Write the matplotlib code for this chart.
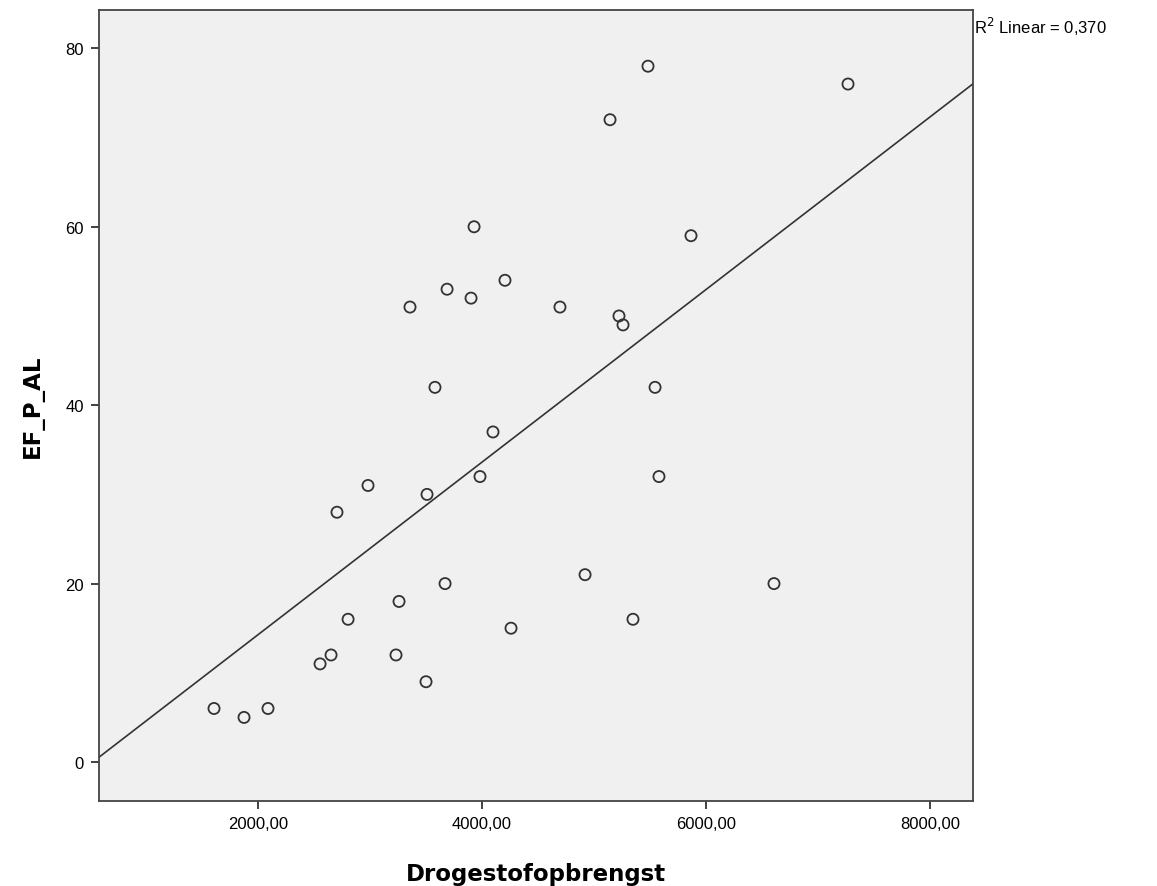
import matplotlib
matplotlib.use("Agg")
import matplotlib.pyplot as plt
import numpy as np

# dry matter yield vs. EF_P_AL
drogestof = [1607, 1875, 2089, 2554, 2652, 2705, 2804, 2982, 3232, 3259,
             3357, 3500, 3509, 3580, 3670, 3688, 3902, 3929, 3982, 4098,
             4205, 4259, 4696, 4920, 5143, 5223, 5259, 5348, 5482, 5545,
             5580, 5866, 6607, 7268]
ef_p_al = [6, 5, 6, 11, 12, 28, 16, 31, 12, 18,
           51, 9, 30, 42, 20, 53, 52, 60, 32, 37,
           54, 15, 51, 21, 72, 50, 49, 16, 78, 42,
           32, 59, 20, 76]
x_ticks = [2000, 4000, 6000, 8000]
y_ticks = [0, 20, 40, 60, 80]
r2_label = "0,370"

x = np.array(drogestof, dtype=float)
y = np.array(ef_p_al, dtype=float)
slope, intercept = np.polyfit(x, y, 1)

fig = plt.figure(figsize=(11.57, 8.87), dpi=100)
ax = fig.add_axes([99 / 1157, 1 - 802 / 887, 874 / 1157, 791 / 887])
ax.set_facecolor("#f0f0f0")

xmin, xmax = 580, 8384
ax.set_xlim(xmin, xmax)
ax.set_ylim(-4.37, 84.3)

xl = np.array([xmin, xmax])
ax.plot(xl, intercept + slope * xl, color="#333333", lw=1.2, zorder=2)
ax.scatter(x, y, s=64, facecolors="none", edgecolors="#333333", linewidths=1.3, zorder=3)

ax.set_xticks(x_ticks)
ax.set_xticklabels([f"{v:.2f}".replace(".", ",") for v in x_ticks],
                   fontfamily="Liberation Sans", fontsize=12)
ax.set_yticks(y_ticks)
ax.set_yticklabels([str(v) for v in y_ticks], fontfamily="Liberation Sans", fontsize=12)
ax.tick_params(direction="out", length=6, width=1.3, color="#333333", pad=5)

for sp in ax.spines.values():
    sp.set_color("#444444")
    sp.set_linewidth(1.3)

ax.set_xlabel("Drogestofopbrengst", fontsize=16.5, fontweight="bold", labelpad=22)
ax.set_ylabel("EF_P_AL", fontsize=16.5, fontweight="bold", labelpad=15)

fig.text(974 / 1157, 1 - 27 / 887, r"R$^2$ Linear = " + r2_label,
         fontfamily="Liberation Sans", fontsize=12, va="center", ha="left")

fig.savefig("out.png", dpi=100, facecolor="white")
